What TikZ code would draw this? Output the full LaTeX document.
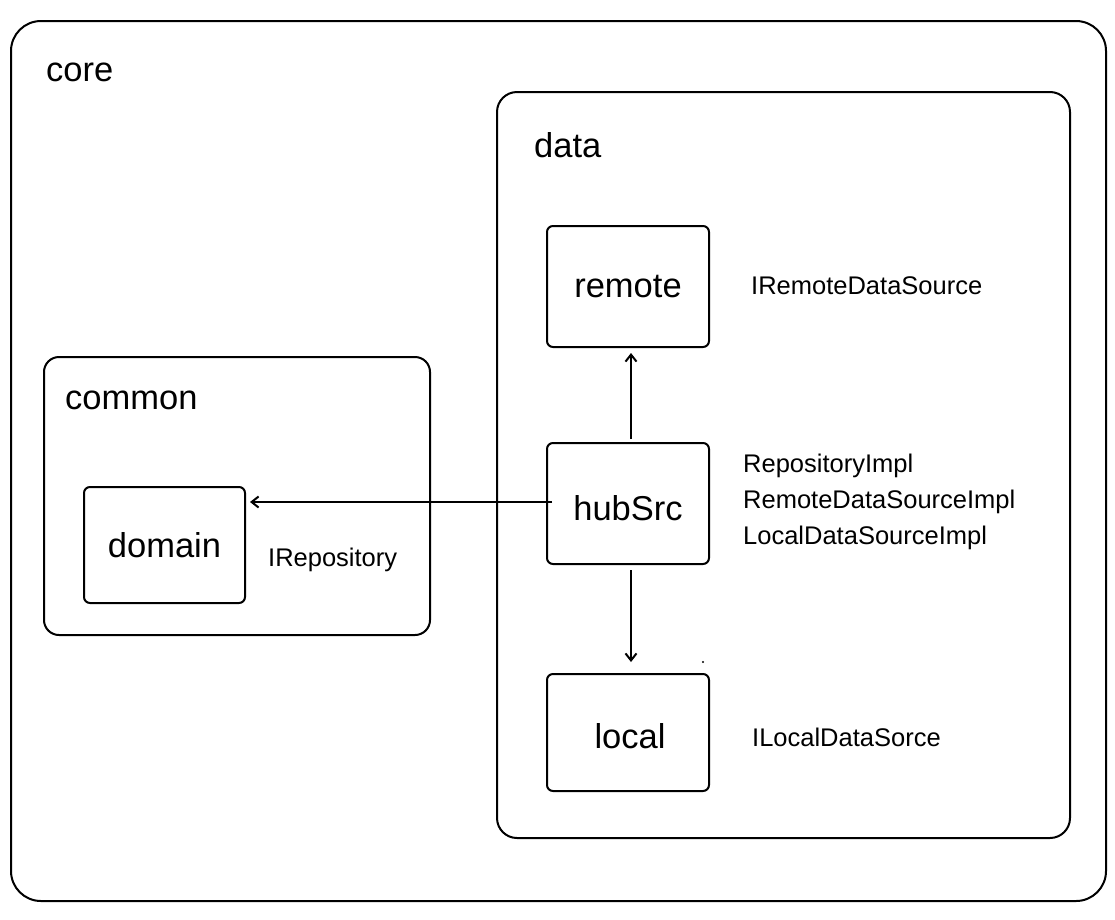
\documentclass[tikz,border=0pt]{standalone}
\usepackage{fontspec}
\setmainfont{Liberation Sans}
\usetikzlibrary{arrows.meta, positioning}

\tikzset{
    area/.style={draw, line width=2pt, anchor=north west, inner sep=0pt},
    modbox/.style={draw, line width=2pt, rounded corners=6pt, inner sep=0pt,
        minimum width=162pt, font=\fontsize{34.5}{40}\selectfont},
    bigtitle/.style={anchor=west, inner sep=0pt, font=\fontsize{34.5}{40}\selectfont},
    note/.style={anchor=west, inner sep=0pt, align=left, font=\fontsize{25.5}{36}\selectfont},
    link/.style={-{Straight Barb[length=7pt, width=11pt, line width=2pt]}, line width=1.6pt}
}

\begin{document}
\begin{tikzpicture}[x=1pt, y=-1pt]
        \useasboundingbox (0,0) rectangle (1115,919);
        \fill[white] (0,0) rectangle (1115,919);

        % outer areas
        \node[area, rounded corners=30pt, minimum width=1095pt, minimum height=880pt] (core) at (10,20) {};
        \node[area, rounded corners=20pt, minimum width=573pt, minimum height=746pt] (data) at (496,91) {};
        \node[area, rounded corners=15pt, minimum width=386pt, minimum height=278pt] (common) at (43,356) {};

        \node[bigtitle] (coretitle) at (46,72) {core};
        \node[bigtitle] (datatitle) at (534,145) {data};
        \node[bigtitle] (commontitle) at (65,400) {common};

        % modules
        \node[modbox, minimum width=161pt, minimum height=116pt] (domain) at (164.5,545) {domain};
        \node[modbox, minimum height=121pt] (remote) at (628,286.5) {remote};
        \node[modbox, minimum height=121pt, text height=34pt] (hubSrc) at (628,503.5) {hubSrc};
        \node[modbox, minimum height=117pt, text height=33pt] (local) at (628,732.5) {\hspace{4pt}local};

        % interfaces / classes
        \node[note] (iremote) at (751,286) {IRemoteDataSource};
        \node[note] (impls) at (743,502) {RepositoryImpl\\RemoteDataSourceImpl\\LocalDataSourceImpl};
        \node[note] (irepo) at (268,560) {IRepository};
        \node[note] (ilocal) at (752,737) {ILocalDataSorce};
        \fill (703,662) circle (1.2pt);

        \draw[link, shorten <=-6pt, shorten >=4pt] ([yshift=1.5pt]hubSrc.west) -- ([yshift=1.5pt]hubSrc.west -| domain.east);
        \draw[link, shorten <=3pt, shorten >=5pt] ([xshift=3pt]hubSrc.north) -- ([xshift=3pt]remote.south);
        \draw[link, shorten <=5pt, shorten >=11pt] ([xshift=3pt]hubSrc.south) -- ([xshift=3pt]local.north);
    \end{tikzpicture}
\end{document}
